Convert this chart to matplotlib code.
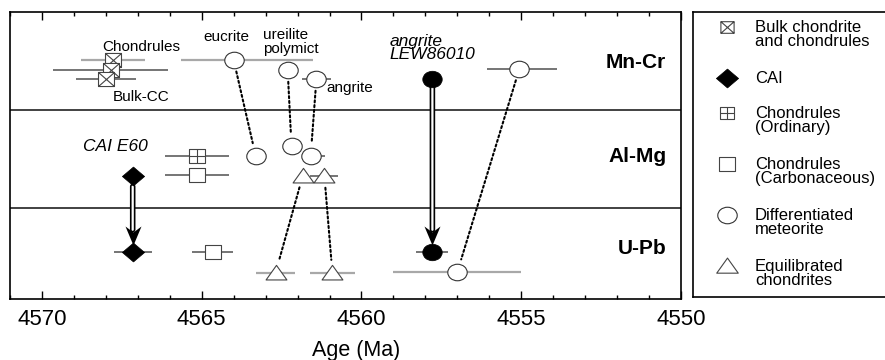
import numpy as np
import matplotlib
matplotlib.use("Agg")
import matplotlib.pyplot as plt
from matplotlib.path import Path
from matplotlib.ticker import MultipleLocator

plt.rcParams['font.family'] = ['Liberation Sans', 'DejaVu Sans']

# ------------------------------------------------------------------ data
x_major = [4570, 4565, 4560, 4555, 4550]
panel_names = ["Mn-Cr", "Al-Mg", "U-Pb"]

# Bulk chondrite and chondrules (Mn-Cr)
bulk_age = [4567.78, 4567.84, 4568.00]
bulk_y = [239, 229, 220]
bulk_err = [1.0, 1.8, 0.94]

# CAI (Al-Mg, U-Pb)
cai_age = [4567.16, 4567.16]
cai_y = [123, 47]
cai_err = [0.0, 0.6]

# Chondrules (Ordinary)
ord_age = [4565.16]
ord_y = [143]
ord_err = [1.0]

# Chondrules (Carbonaceous)
carb_age = [4565.16, 4564.66]
carb_y = [124, 47]
carb_err = [1.0, 0.63]

# Differentiated meteorites
diff_age = [4564.00, 4562.31, 4561.41, 4555.06, 4563.31, 4562.19, 4561.59, 4557.00]
diff_y = [239, 229, 220, 230, 143, 153, 143, 27]
diff_err_old = [1.66, 0.0, 0.45, 1.0, 0.0, 0.0, 0.0, 2.0]
diff_err_young = [2.47, 0.0, 0.45, 1.19, 0.0, 0.0, 0.44, 2.0]

# angrite LEW86010
lew_age = [4557.78, 4557.78]
lew_y = [220, 47]
lew_err = [0.0, 0.5]

# Equilibrated chondrites
eq_age = [4561.84, 4561.16, 4562.69, 4560.91]
eq_y = [123, 123, 26, 26]
eq_err = [0.0, 0.44, 0.6, 0.7]

# dotted links (differentiated / equilibrated) and arrows
diff_links = [(0, 4), (1, 5), (2, 6), (3, 7)]
eq_links = [(0, 2), (1, 3)]

legend_labels = ["Bulk chondrite\nand chondrules", "CAI", "Chondrules\n(Ordinary)",
                 "Chondrules\n(Carbonaceous)", "Differentiated\nmeteorite",
                 "Equilibrated\nchondrites"]

# ------------------------------------------------------------------ markers
def poly(pts):
    v = list(pts) + [pts[0]]
    c = [Path.MOVETO] + [Path.LINETO] * (len(pts) - 1) + [Path.CLOSEPOLY]
    return v, c

ell = Path.unit_circle()
ell = Path(ell.vertices * np.array([1.0, 0.85]), ell.codes)
dia_v, dia_c = poly([(0, 0.85), (1, 0), (0, -0.85), (-1, 0)])
diamond = Path(dia_v, dia_c)
tri_v, tri_c = poly([(-1, -0.62), (1, -0.62), (0, 0.78)])
triangle = Path(tri_v, tri_c)
sq_v, sq_c = poly([(-1, -0.88), (1, -0.88), (1, 0.88), (-1, 0.88)])
square = Path(sq_v, sq_c)
xsquare = Path(sq_v + [(-1, -0.88), (1, 0.88), (-1, 0.88), (1, -0.88)],
               sq_c + [Path.MOVETO, Path.LINETO, Path.MOVETO, Path.LINETO])
psquare = Path(sq_v + [(0, -0.88), (0, 0.88), (-1, 0), (1, 0)],
               sq_c + [Path.MOVETO, Path.LINETO, Path.MOVETO, Path.LINETO])
# arrow head, tip located above the origin (origin = target marker centre)
head = Path([(0, 7), (-8, 26), (0, 20), (8, 26), (0, 7)],
            [Path.MOVETO, Path.LINETO, Path.LINETO, Path.LINETO, Path.CLOSEPOLY])
head_ms = 2 * 26 * 0.72

LIGHT = '#a8a8a8'
DARK = '#505050'

fig = plt.figure(figsize=(8.85, 3.6), dpi=100)
ax = fig.add_axes([10 / 885, 61 / 360, 671 / 885, 287 / 360])
ax.set_xlim(4571, 4550)
ax.set_ylim(0, 287)

for yb in [91, 189]:
    ax.axhline(yb, color='#333333', lw=1.3, zorder=1)


def bars(age, y, lo, hi, colors, lws):
    for a, yy, l, h, c, w in zip(age, y, lo, hi, colors, lws):
        if l == 0 and h == 0:
            continue
        ax.errorbar([a], [yy], xerr=[[l], [h]], fmt='none', ecolor=c,
                    elinewidth=w, capsize=0, zorder=2)


bars(bulk_age, bulk_y, bulk_err, bulk_err, [LIGHT, DARK, DARK], [1.6, 1.1, 1.1])
bars(cai_age, cai_y, cai_err, cai_err, [DARK] * 2, [1.1] * 2)
bars(ord_age, ord_y, ord_err, ord_err, [DARK], [1.1])
bars(carb_age, carb_y, carb_err, carb_err, [DARK] * 2, [1.1] * 2)
bars(diff_age, diff_y, diff_err_young, diff_err_old,
     [LIGHT, DARK, DARK, DARK, DARK, DARK, DARK, LIGHT],
     [1.6, 1.1, 1.1, 1.1, 1.1, 1.1, 1.1, 1.6])
bars(lew_age, lew_y, lew_err, lew_err, [DARK] * 2, [1.1] * 2)
bars(eq_age, eq_y, eq_err, eq_err, [DARK, DARK, LIGHT, LIGHT], [1.1, 1.1, 1.6, 1.6])

# dotted links
def link(a1, y1, a2, y2):
    ax.annotate('', xy=(a2, y2), xytext=(a1, y1),
                arrowprops=dict(arrowstyle='-', color='black', lw=1.5,
                                linestyle=(0, (1, 1.3)), shrinkA=8.5, shrinkB=9.5),
                zorder=2)

for i, j in diff_links:
    link(diff_age[i], diff_y[i], diff_age[j], diff_y[j])
for i, j in eq_links:
    link(eq_age[i], eq_y[i], eq_age[j], eq_y[j])

# double-line arrows
def darrow(a1, y1, a2, y2, sA):
    for lw, col in [(4.0, 'black'), (1.6, 'white')]:
        ax.annotate('', xy=(a2, y2), xytext=(a1, y1),
                    arrowprops=dict(arrowstyle='-', color=col, lw=lw,
                                    shrinkA=sA, shrinkB=16),
                    zorder=3)
    ax.plot([a2], [y2], marker=head, ms=head_ms, color='black', mew=0, ls='none', zorder=4)

darrow(cai_age[0], cai_y[0], cai_age[1], cai_y[1], 7.5)
darrow(lew_age[0], lew_y[0], lew_age[1], lew_y[1], 5.5)

# markers
ax.plot(bulk_age, bulk_y, ls='none', marker=xsquare, ms=11.5, mfc='white', mec='#444', mew=0.8, zorder=5)
ax.plot(cai_age, cai_y, ls='none', marker=diamond, ms=16, mfc='black', mec='black', mew=0.5, zorder=5)
ax.plot(ord_age, ord_y, ls='none', marker=psquare, ms=11.5, mfc='white', mec='#444', mew=0.8, zorder=5)
ax.plot(carb_age, carb_y, ls='none', marker=square, ms=11.5, mfc='white', mec='#444', mew=0.8, zorder=5)
ax.plot(diff_age, diff_y, ls='none', marker=ell, ms=14, mfc='white', mec='#333', mew=0.8, zorder=5)
ax.plot(lew_age, lew_y, ls='none', marker=ell, ms=14, mfc='black', mec='black', mew=0.5, zorder=5)
ax.plot(eq_age, eq_y, ls='none', marker=triangle, ms=15, mfc='white', mec='#444', mew=0.8, zorder=5)

# labels
fs = 11
ax.text(4566.88, 252, 'Chondrules', fontsize=fs, ha='center', va='center', zorder=6)
ax.text(4566.90, 202, 'Bulk-CC', fontsize=fs, ha='center', va='center', zorder=6)
ax.text(4564.23, 262, 'eucrite', fontsize=fs, ha='center', va='center', zorder=6)
ax.text(4563.09, 257, 'ureilite\npolymict', fontsize=fs, ha='left', va='center',
        linespacing=1.0, zorder=6)
ax.text(4561.09, 211, 'angrite', fontsize=fs, ha='left', va='center', zorder=6)
ax.text(4559.13, 251, 'angrite\nLEW86010', fontsize=12.5, style='italic', ha='left',
        va='center', linespacing=0.9, zorder=6)
ax.text(4567.70, 152, 'CAI E60', fontsize=12.5, style='italic', ha='center', va='center', zorder=6)

for name, yy in zip(panel_names, [236, 142, 50]):
    ax.text(0.978, yy, name, transform=ax.get_yaxis_transform(), fontsize=15,
            fontweight='bold', ha='right', va='center')

ax.set_xticks(x_major)
ax.set_xticklabels([str(v) for v in x_major])
ax.xaxis.set_minor_locator(MultipleLocator(1))
ax.set_yticks([])
ax.tick_params(axis='x', which='both', direction='in', top=True, bottom=True,
               labelsize=16, pad=7, width=1.0)
ax.tick_params(axis='x', which='major', length=5.5)
ax.tick_params(axis='x', which='minor', length=3)
ax.set_xlabel('Age (Ma)', fontsize=15.5, va='center')
ax.xaxis.set_label_coords(0.5156, -0.178)
for s in ax.spines.values():
    s.set_linewidth(1.2)

# legend box
lax = fig.add_axes([693 / 885, 63 / 360, 0.35, 285 / 360])
lax.set_xlim(0, 1)
lax.set_ylim(285, 0)
lax.set_xticks([])
lax.set_yticks([])
for s in lax.spines.values():
    s.set_linewidth(1.2)

leg_markers = [
    dict(marker=xsquare, ms=9.5, mfc='white', mec='#444', mew=0.8),
    dict(marker=diamond, ms=16, mfc='black', mec='black', mew=0.5),
    dict(marker=psquare, ms=9.5, mfc='white', mec='#444', mew=0.8),
    dict(marker=square, ms=12, mfc='white', mec='#444', mew=0.8),
    dict(marker=ell, ms=14, mfc='white', mec='#333', mew=0.8),
    dict(marker=triangle, ms=15.5, mfc='white', mec='#444', mew=0.8),
]
xm = (727 - 693) / (0.35 * 885)
xt = (755 - 693) / (0.35 * 885)
yrow = 15
for lab, mk in zip(legend_labels, leg_markers):
    nl = lab.count('\n') + 1
    lax.plot([xm], [yrow], ls='none', **mk)
    lax.text(xt, yrow - 7.5, lab, fontsize=12, ha='left', va='top', linespacing=0.95)
    yrow += 16 * nl + 19

fig.savefig('out.png', dpi=100)
